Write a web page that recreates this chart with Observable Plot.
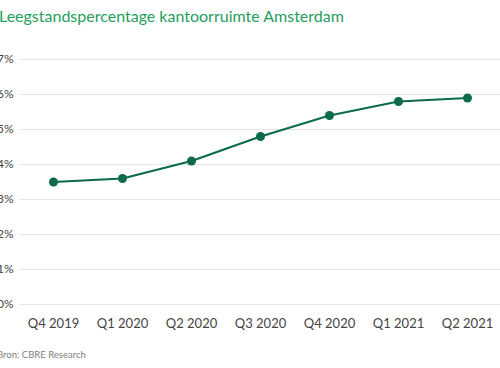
<!DOCTYPE html>
<html>
<head>
<meta charset="utf-8">
<script src="https://cdn.jsdelivr.net/npm/d3@7"></script>
<script src="https://cdn.jsdelivr.net/npm/@observablehq/plot@0.6"></script>
<style>
  html, body { margin: 0; padding: 0; background: #fff; }
  body { width: 500px; height: 368px; overflow: hidden; font-family: Lato, "Open Sans", sans-serif; }
  #title { height: 36px; font-size: 16px; color: #1f9e5e; line-height: 31px; margin-left: -1px; white-space: nowrap; }
  #chart svg { display: block; }
  #caption { font-size: 9.5px; color: #808080; margin-left: -3px; margin-top: 15px; }
</style>
</head>
<body>
<div id="title">Leegstandspercentage kantoorruimte Amsterdam</div>
<div id="chart"></div>
<div id="caption">Bron: CBRE Research</div>
<script>
const quarters = ["Q4 2019", "Q1 2020", "Q2 2020", "Q3 2020", "Q4 2020", "Q1 2021", "Q2 2021"];
const vacancy = [3.5, 3.6, 4.1, 4.8, 5.4, 5.8, 5.9];
const yTicks = [0, 1, 2, 3, 4, 5, 6, 7];

const data = quarters.map((q, i) => ({quarter: q, value: vacancy[i]}));

const chart = Plot.plot({
  width: 500,
  height: 298,
  marginLeft: 20,
  marginRight: 0,
  marginTop: 23,
  marginBottom: 30,
  style: {fontFamily: "Lato, 'Open Sans', sans-serif", fontSize: "12px", color: "#333"},
  x: {type: "point", domain: quarters, padding: 0.478, axis: null, label: null},
  y: {domain: [0, 7], axis: null, label: null},
  marks: [
    Plot.ruleY(yTicks, {stroke: "#e4e4e4", strokeWidth: 1}),
    Plot.axisY(yTicks, {tickSize: 0, tickPadding: 7, tickFormat: d => d + "%", fontSize: 12, fill: "#444", label: null}),
    Plot.axisX({tickSize: 0, tickPadding: 14, fontSize: 13, fill: "#444", label: null}),
    Plot.line(data, {x: "quarter", y: "value", stroke: "#0b6b4b", strokeWidth: 2.2}),
    Plot.dot(data, {x: "quarter", y: "value", r: 4.5, fill: "#0b6b4b", stroke: "none"})
  ]
});
document.getElementById("chart").appendChild(chart);
</script>
</body>
</html>
